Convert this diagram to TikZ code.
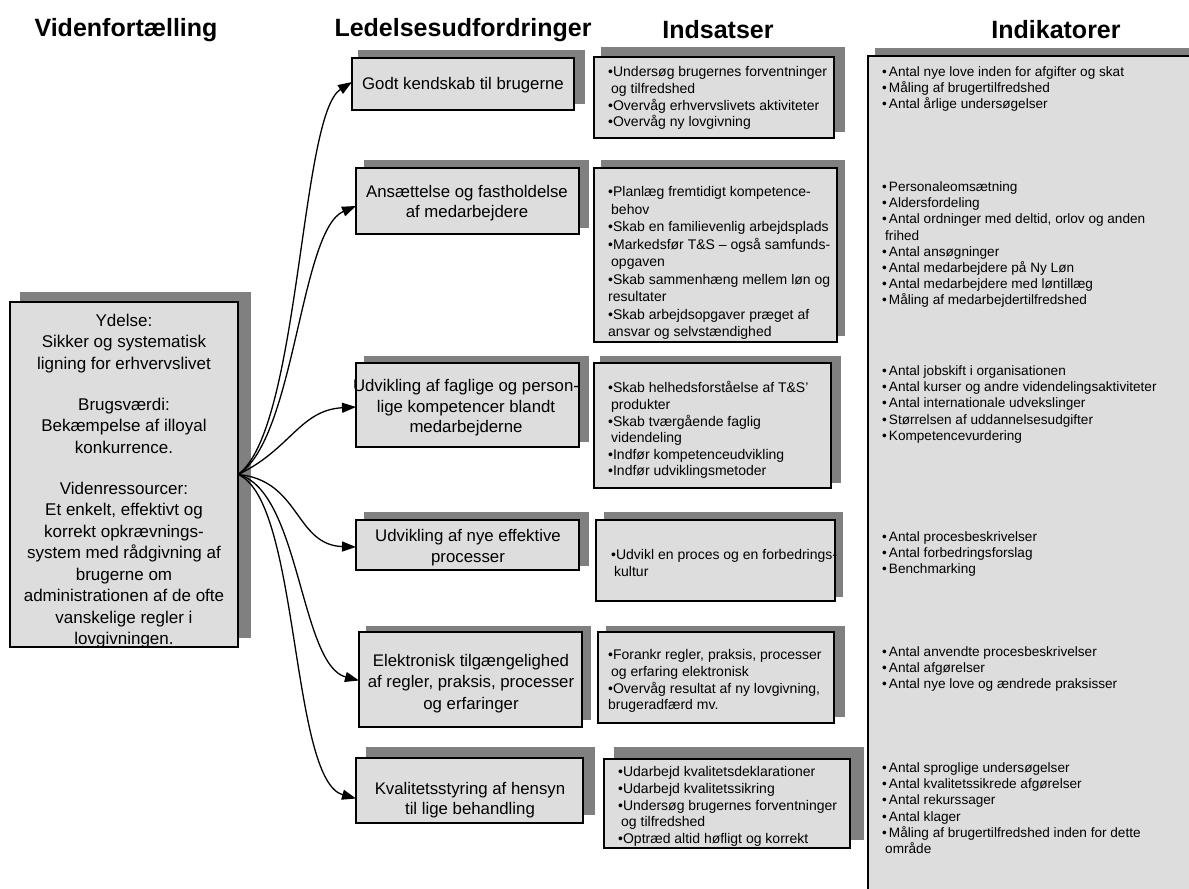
\documentclass[tikz,border=0pt]{standalone}
\usepackage{fontspec}
\setmainfont{Liberation Sans}
\usetikzlibrary{arrows.meta,fit}
\definecolor{boxfill}{HTML}{DDDDDD}
\definecolor{shadowc}{HTML}{808080}
\newcommand\indb{•\hspace{2pt}}
\begin{document}
\begin{tikzpicture}[x=1pt,y=-1pt,
  shade/.style={fill=shadowc},
  box/.style={draw=black, line width=1.3pt, fill=boxfill, inner sep=0pt, outer sep=0pt},
  title/.style={font=\fontsize{25}{28}\selectfont\bfseries, inner sep=0pt},
  chal/.style={font=\fontsize{16.8}{20.5}\selectfont, align=center, inner sep=0pt},
  lefttxt/.style={font=\fontsize{17}{21.5}\selectfont, align=center, inner sep=0pt},
  act/.style={font=\fontsize{14}{16.6}\selectfont, anchor=north west, inner sep=0pt, align=left},
  ind/.style={font=\fontsize{13.6}{16.2}\selectfont, anchor=north west, inner sep=0pt, align=left},
  conn/.style={-{Triangle[length=14pt,width=10pt]}, line width=1.3pt}]
\useasboundingbox (0,0) rectangle (1189,889);
\clip (0,0) rectangle (1189,889);

% titles
\node[title] (h1) at (126,30) {Videnfortælling};
\node[title] (h2) at (463,30) {Ledelsesudfordringer};
\node[title] (h3) at (718,30) {Indsatser};
\node[title] (h4) at (1056,30) {Indikatorer};

% shadows
\fill[shade] (20,292) rectangle (251,638);
\fill[shade] (358,50) rectangle (585,104);
\fill[shade] (364,160) rectangle (589,228);
\fill[shade] (364,356) rectangle (589,442);
\fill[shade] (364,512) rectangle (589,566);
\fill[shade] (366,626) rectangle (591,720);
\fill[shade] (366,747) rectangle (595,815);
\fill[shade] (601,47) rectangle (845,132);
\fill[shade] (601,160) rectangle (845,336);
\fill[shade] (600,356) rectangle (841,483);
\fill[shade] (604,512) rectangle (843,597);
\fill[shade] (606,626) rectangle (845,717);
\fill[shade] (614,747) rectangle (864,840);
\fill[shade] (875,48) rectangle (1200,900);

% boxes
\node[box, fit={(10,302) (238,647)}] (L) {};
\node[box, fit={(352,58) (574,110)}] (C1) {};
\node[box, fit={(356,168) (579,234)}] (C2) {};
\node[box, fit={(356,363) (579,447)}] (C3) {};
\node[box, fit={(356,520) (579,570)}] (C4) {};
\node[box, fit={(359,632) (582,727)}] (C5) {};
\node[box, fit={(356,758) (583,823)}] (C6) {};
\node[box, fit={(594,57) (834,138)}] (A1) {};
\node[box, fit={(594,168) (837,342)}] (A2) {};
\node[box, fit={(594,363) (831,488)}] (A3) {};
\node[box, fit={(596,520) (835,601)}] (A4) {};
\node[box, fit={(598,632) (834,723)}] (A5) {};
\node[box, fit={(604,759) (850,848)}] (A6) {};
\node[box, fit={(868,56) (1200,900)}] (I) {};

% left text
\node[lefttxt] (Lt) at (124,481) {Ydelse:\\Sikker og systematisk\\ligning for erhvervslivet\\[19.5pt]
Brugsværdi:\\Bekæmpelse af illoyal\\konkurrence.\\[19.5pt]
Videnressourcer:\\Et enkelt, effektivt og\\korrekt opkrævnings-\\system med rådgivning af\\brugerne om\\administrationen af de ofte\\vanskelige regler i\\lovgivningen.};

% challenge texts
\node[chal] (t1) at (463,85) {Godt kendskab til brugerne};
\node[chal] (t2) at (467,203) {Ansættelse og fastholdelse\\af medarbejdere};
\node[chal] (t3) at (466,408) {Udvikling af faglige og person-\\lige kompetencer blandt\\medarbejderne};
\node[chal] (t4) at (468,547.5) {Udvikling af nye effektive\\processer};
\node[chal, font=\fontsize{16.8}{21.5}\selectfont] (t5) at (471,683.5) {Elektronisk tilgængelighed\\af regler, praksis, processer\\og erfaringer};
\node[chal] (t6) at (470,800) {Kvalitetsstyring af hensyn\\til lige behandling};

% actions
\node[act] (a1) at (608,66.5) {•Undersøg brugernes forventninger\\\hspace*{3pt}og tilfredshed\\•Overvåg erhvervslivets aktiviteter\\•Overvåg ny lovgivning};
\node[act, font=\fontsize{14}{17.5}\selectfont] (a2) at (608,186.5) {•Planlæg fremtidigt kompetence-\\\hspace*{3pt}behov\\•Skab en familievenlig arbejdsplads\\•Markedsfør T\&S – også samfunds-\\\hspace*{3pt}opgaven\\•Skab sammenhæng mellem løn og\\resultater\\•Skab arbejdsopgaver præget af\\ansvar og selvstændighed};
\node[act] (a3) at (608,381.5) {•Skab helhedsforståelse af T\&S'\\\hspace*{3pt}produkter\\•Skab tværgående faglig\\\hspace*{3pt}videndeling\\•Indfør kompetenceudvikling\\•Indfør udviklingsmetoder};
\node[act] (a4) at (611,549.5) {•Udvikl en proces og en forbedrings-\\\hspace*{3pt}kultur};
\node[act] (a5) at (608,649.5) {•Forankr regler, praksis, processer\\\hspace*{3pt}og erfaring elektronisk\\•Overvåg resultat af ny lovgivning,\\brugeradfærd mv.};
\node[act] (a6) at (618,766.5) {•Udarbejd kvalitetsdeklarationer\\•Udarbejd kvalitetssikring\\•Undersøg brugernes forventninger\\\hspace*{3pt}og tilfredshed\\•Optræd altid høfligt og korrekt};

% indicators
\node[ind] (i1) at (882,66.5) {\indb Antal nye love inden for afgifter og skat\\\indb Måling af brugertilfredshed\\\indb Antal årlige undersøgelser};
\node[ind] (i2) at (882,181.5) {\indb Personaleomsætning\\\indb Aldersfordeling\\\indb Antal ordninger med deltid, orlov og anden\\\hspace*{3pt}frihed\\\indb Antal ansøgninger\\\indb Antal medarbejdere på Ny Løn\\\indb Antal medarbejdere med løntillæg\\\indb Måling af medarbejdertilfredshed};
\node[ind] (i3) at (882,365.5) {\indb Antal jobskift i organisationen\\\indb Antal kurser og andre videndelingsaktiviteter\\\indb Antal internationale udvekslinger\\\indb Størrelsen af uddannelsesudgifter\\\indb Kompetencevurdering};
\node[ind] (i4) at (882,531.5) {\indb Antal procesbeskrivelser\\\indb Antal forbedringsforslag\\\indb Benchmarking};
\node[ind] (i5) at (882,646.5) {\indb Antal anvendte procesbeskrivelser\\\indb Antal afgørelser\\\indb Antal nye love og ændrede praksisser};
\node[ind] (i6) at (882,762.5) {\indb Antal sproglige undersøgelser\\\indb Antal kvalitetssikrede afgørelser\\\indb Antal rekurssager\\\indb Antal klager\\\indb Måling af brugertilfredshed inden for dette\\\hspace*{3pt}område};

% connectors
\draw[conn] (L.east) .. controls (300,430) and (300,115) .. ([yshift=2pt]C1.west);
\draw[conn] (L.east) .. controls (295,440) and (300,230) .. ([yshift=-5pt]C2.west);
\draw[conn] (L.east) .. controls (290,450) and (300,410) .. ([yshift=-2pt]C3.west);
\draw[conn] (L.east) .. controls (300,480) and (295,545) .. ([yshift=-2pt]C4.west);
\draw[conn] (L.east) .. controls (300,490) and (300,665) .. ([yshift=-1pt]C5.west);
\draw[conn] (L.east) .. controls (300,500) and (290,780) .. ([yshift=-8pt]C6.west);
\end{tikzpicture}
\end{document}
